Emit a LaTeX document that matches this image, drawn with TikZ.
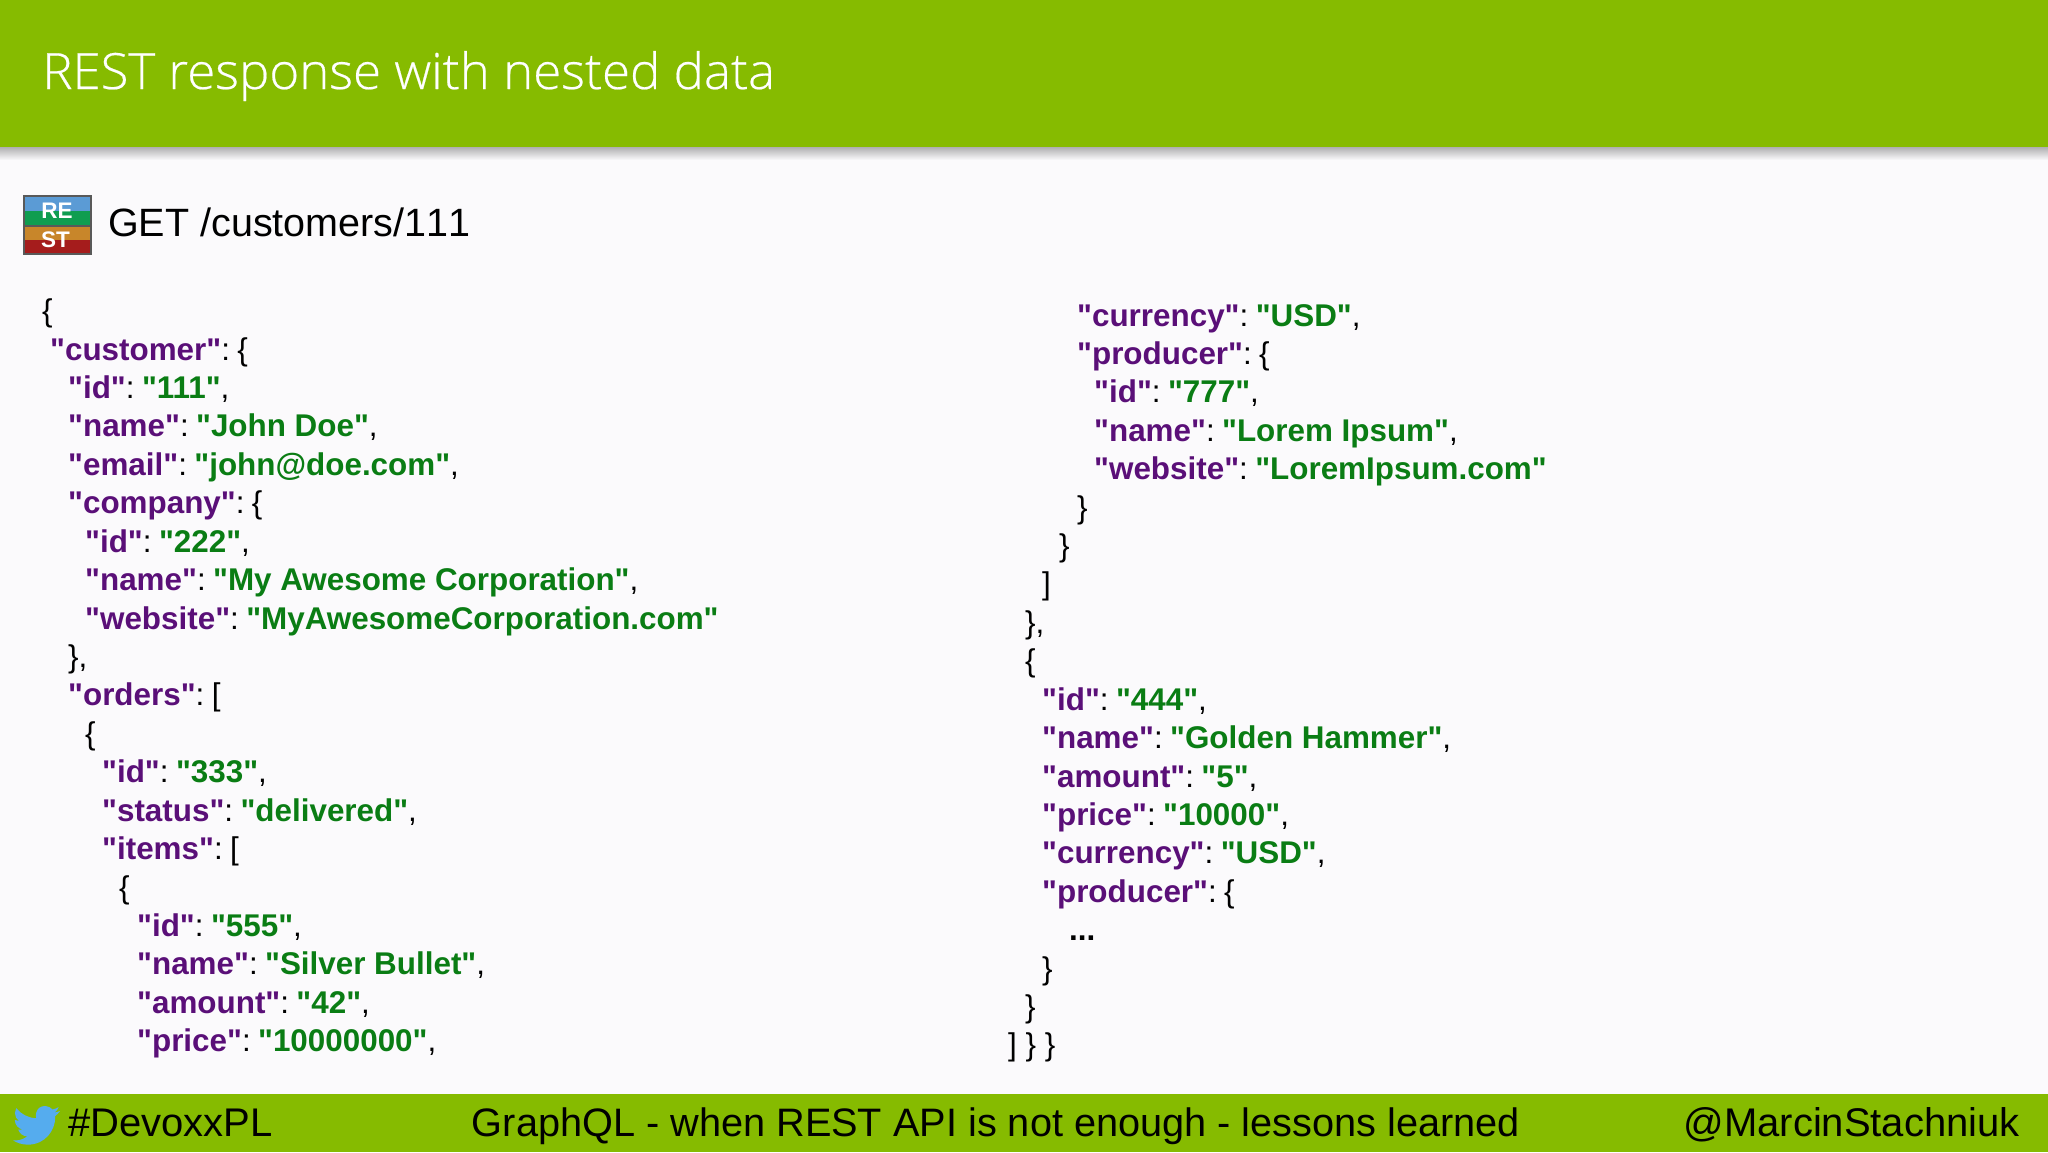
\documentclass[tikz,border=0pt]{standalone}
\usepackage{fontspec}
\setmainfont{Liberation Sans}
\newfontfamily\lib{Liberation Sans}
\newfontfamily\titlefont{Open Sans Light}[FakeStretch=1.02,FakeBold=0.4]
\definecolor{barg}{HTML}{86BB00}
\definecolor{pagebg}{HTML}{FBFAFC}
\definecolor{keyc}{HTML}{5A0F78}
\definecolor{valc}{HTML}{0A7D14}
\definecolor{birdc}{HTML}{55ACEE}
\newcommand\K[1]{{\bfseries\color{keyc}"#1"}:\hspace{7.4pt}}
\newcommand\V[1]{{\bfseries\color{valc}"#1"}}
\tikzset{
  code/.style={anchor=base west,inner sep=0pt,font=\lib\fontsize{31.4pt}{36pt}\selectfont,text=black},
  footertext/.style={inner sep=0pt,font=\fontsize{40pt}{44pt}\selectfont,text=black,anchor=base west},
  bar/.style={fill=barg,draw=none},
  band/.style={draw=none},
  icontext/.style={inner sep=0pt,anchor=base,text=white,font=\fontsize{22.5pt}{24pt}\selectfont\bfseries}
}
\newcommand\CL[4]{\node[code] (#1) at (#2,{#3*38.43+360}) {#4};}
\newcommand\CR[4]{\node[code] (#1) at (#2,{#3*38.42+326}) {#4};}
\begin{document}
\begin{tikzpicture}[x=1pt,y=-1pt]
\useasboundingbox (0,0) rectangle (2048,1152);
\fill[pagebg] (0,0) rectangle (2048,1152);
\shade[top color=black!30!pagebg,bottom color=pagebg,draw=none] (0,147) rectangle (2048,160);
\fill[bar] (0,0) rectangle (2048,147);
\fill[bar] (0,1094) rectangle (2048,1152);
\node[anchor=base west,inner sep=0pt,text=white,font=\titlefont\fontsize{50pt}{56pt}\selectfont] (title) at (42,89) {REST response with nested data};
% icon
\fill[black!65] (23,195) rectangle (92,255);
\fill[band,fill={rgb,255:red,91;green,155;blue,213}] (25,197) rectangle (90,211);
\fill[band,fill={rgb,255:red,15;green,157;blue,80}] (25,211) rectangle (90,225);
\fill[band,fill={rgb,255:red,200;green,134;blue,42}] (25,227) rectangle (90,240);
\fill[band,fill={rgb,255:red,165;green,28;blue,28}] (25,240) rectangle (90,253);
\node[icontext] (re) at (57,218) {RE};
\node[icontext] (st) at (55.5,247) {ST};
\node[anchor=base west,inner sep=0pt,font=\fontsize{39.5pt}{44pt}\selectfont\addfontfeature{Kerning=Off}] (get) at (108,236) {GET /customers/111};
% left column
\CL{l0}{42}{-1}{\{}
\CL{l1}{50}{0}{\K{customer}\{}
\CL{l2}{68}{1}{\K{id}\V{111},}
\CL{l3}{68}{2}{\K{name}\V{John Doe},}
\CL{l4}{68}{3}{\K{email}\V{john@doe.com},}
\CL{l5}{68}{4}{\K{company}\{}
\CL{l6}{85}{5}{\K{id}\V{222},}
\CL{l7}{85}{6}{\K{name}\V{My Awesome Corporation},}
\CL{l8}{85}{7}{\K{website}\V{MyAwesomeCorporation.com}}
\CL{l9}{68}{8}{\},}
\CL{l10}{68}{9}{\K{orders}[}
\CL{l11}{85}{10}{\{}
\CL{l12}{102}{11}{\K{id}\V{333},}
\CL{l13}{102}{12}{\K{status}\V{delivered},}
\CL{l14}{102}{13}{\K{items}[}
\CL{l15}{119}{14}{\{}
\CL{l16}{137}{15}{\K{id}\V{555},}
\CL{l17}{137}{16}{\K{name}\V{Silver Bullet},}
\CL{l18}{137}{17}{\K{amount}\V{42},}
\CL{l19}{137}{18}{\K{price}\V{10000000},}
% right column
\CR{r0}{1077}{0}{\K{currency}\V{USD},}
\CR{r1}{1077}{1}{\K{producer}\{}
\CR{r2}{1094}{2}{\K{id}\V{777},}
\CR{r3}{1094}{3}{\K{name}\V{Lorem Ipsum},}
\CR{r4}{1094}{4}{\K{website}\V{LoremIpsum.com}}
\CR{r5}{1077}{5}{\}}
\CR{r6}{1059}{6}{\}}
\CR{r7}{1042}{7}{]}
\CR{r8}{1025}{8}{\},}
\CR{r9}{1025}{9}{\{}
\CR{r10}{1042}{10}{\K{id}\V{444},}
\CR{r11}{1042}{11}{\K{name}\V{Golden Hammer},}
\CR{r12}{1042}{12}{\K{amount}\V{5},}
\CR{r13}{1042}{13}{\K{price}\V{10000},}
\CR{r14}{1042}{14}{\K{currency}\V{USD},}
\CR{r15}{1042}{15}{\K{producer}\{}
\CR{r16}{1069}{16}{\textbf{...}}
\CR{r17}{1042}{17}{\}}
\CR{r18}{1025}{18}{\}}
\CR{r19}{1008}{19}{] \} \}}
% footer
\begin{scope}[shift={(13,1102)},x=1.96pt,y=-1.96pt]
\fill[birdc] (23.953,4.57) .. controls (23.07,4.96) and (22.12,5.23) .. (21.128,5.345)
 .. controls (22.14,4.74) and (22.92,3.78) .. (23.291,2.622)
 .. controls (22.34,3.177) and (21.286,3.581) .. (20.164,3.806)
 .. controls (18.5,1.9) and (15.3,1.4) .. (13.3,3.0)
 .. controls (11.9,4.3) and (11.4,6.4) .. (11.78,8.288)
 .. controls (7.69,8.095) and (4.067,6.13) .. (1.64,3.162)
 .. controls (1.21,3.9) and (.974,4.74) .. (.974,5.637)
 .. controls (.974,7.347) and (1.844,8.85) .. (3.162,9.733)
 .. controls (2.36,9.71) and (1.6,9.49) .. (.934,9.117)
 -- (.934,9.177)
 .. controls (.934,11.56) and (2.63,13.55) .. (4.88,14.004)
 .. controls (4.17,14.19) and (3.41,14.22) .. (2.668,14.089)
 .. controls (3.3,16.05) and (5.1,17.46) .. (7.272,17.506)
 .. controls (5.6,18.82) and (3.45,19.611) .. (1.17,19.611)
 .. controls (.78,19.611) and (.391,19.588) .. (0,19.544)
 .. controls (2.17,20.94) and (4.77,21.753) .. (7.557,21.753)
 .. controls (16.61,21.753) and (21.555,14.257) .. (21.555,7.768)
 .. controls (21.555,7.558) and (21.555,7.348) .. (21.54,7.138)
 .. controls (22.5,6.45) and (23.33,5.59) .. (24,4.59) -- cycle;
\end{scope}
\node[footertext] (tag) at (68,1136) {\#DevoxxPL};
\node[footertext,anchor=base,font=\fontsize{39.7pt}{44pt}\selectfont] (talk) at (996,1136) {GraphQL - when REST API is not enough - lessons learned};
\node[footertext,anchor=base east] (handle) at (2020,1136) {@MarcinStachniuk};
\end{tikzpicture}
\end{document}
